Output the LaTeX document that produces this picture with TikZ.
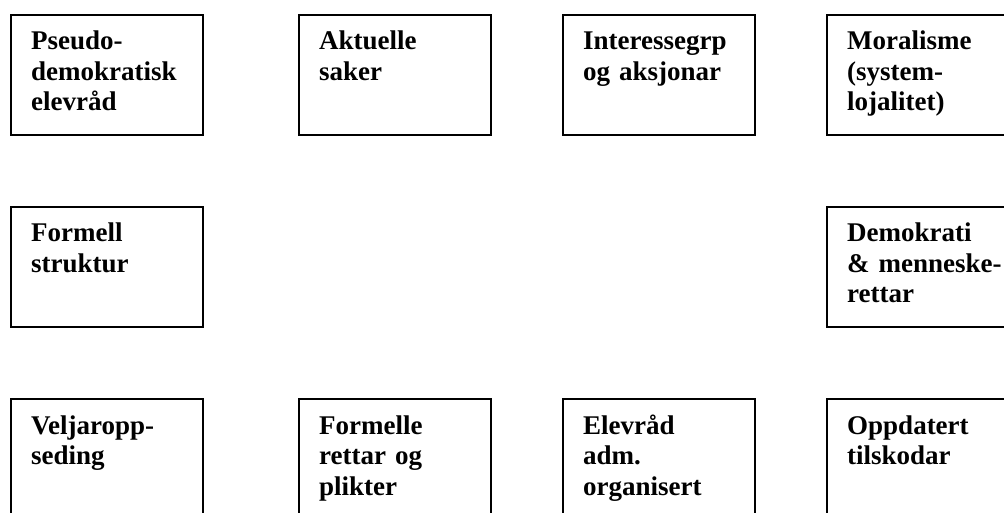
\documentclass[tikz,border=0pt]{standalone}
\usepackage{fontspec}
\setmainfont{Liberation Serif}
\tikzset{
  cellbox/.style={draw=black, line width=1.6pt, minimum width=192pt, minimum height=120pt, inner sep=0pt, anchor=north west},
  celltext/.style={anchor=base west, inner sep=0pt, text width=178pt, align=left,
    font=\bfseries\fontsize{27}{30.5}\selectfont}
}
\newcommand{\mycell}[5]{%
  \node[cellbox] (#1) at (#2,#3) {};
  \node[celltext] (#1t) at ([xshift=21pt,yshift=-36pt]#1.north west) {#4};
}
\begin{document}
\begin{tikzpicture}[x=1pt,y=-1pt]
\useasboundingbox (0,0) rectangle (1004,513);
\clip (0,0) rectangle (1004,513);
\fill[white] (0,0) rectangle (1004,513);
\mycell{a}{10}{14}{Pseudo-\\demokratisk\\elevråd}{}
\mycell{b}{298}{14}{Aktuelle\\saker}{}
\mycell{c}{562}{14}{Interessegrp\\og aksjonar}{}
\mycell{d}{826}{14}{Moralisme\\(system-\\lojalitet)}{}
\mycell{e}{10}{206}{Formell\\struktur}{}
\mycell{f}{826}{206}{Demokrati\\\& menneske-\\rettar}{}
\mycell{g}{10}{398}{Veljaropp-\\seding}{}
\mycell{h}{298}{398}{Formelle\\rettar og\\plikter}{}
\mycell{i}{562}{398}{Elevråd\\adm.\\organisert}{}
\mycell{j}{826}{398}{Oppdatert\\tilskodar}{}
\end{tikzpicture}
\end{document}
